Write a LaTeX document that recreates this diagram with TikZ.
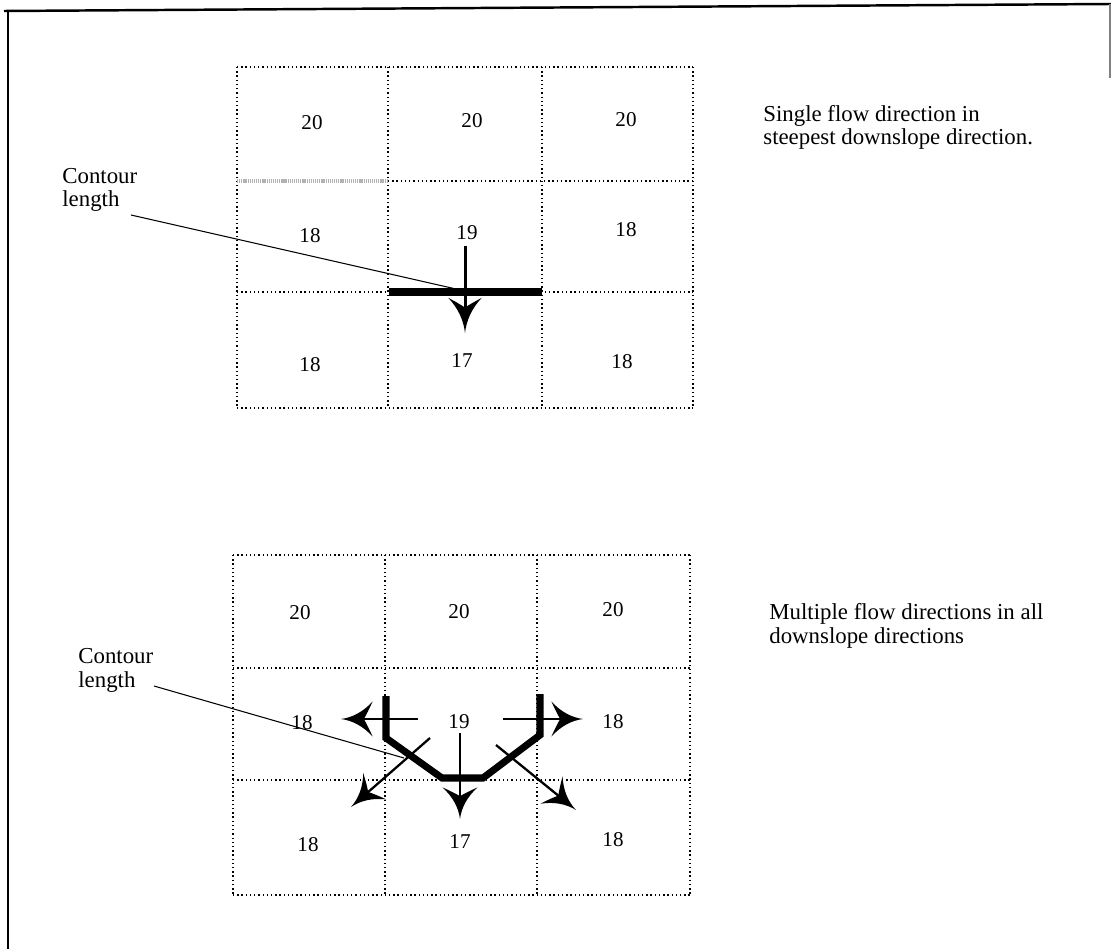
\documentclass[tikz,border=0pt]{standalone}
\usepackage{fontspec}
\setmainfont{Liberation Serif}
\usetikzlibrary{arrows.meta}

% filled arrow head with curved, swept-back barbs
\pgfdeclarearrow{
  name = FlowBarb,
  parameters = {\the\pgfarrowlength,\the\pgfarrowwidth},
  setup code = {
    \pgfarrowssettipend{0pt}
    \pgfarrowssetbackend{-\pgfarrowlength}
    \pgfarrowssetlineend{-0.6\pgfarrowlength}
    \pgfarrowssavethe\pgfarrowlength
    \pgfarrowssavethe\pgfarrowwidth
  },
  drawing code = {
    \pgfpathmoveto{\pgfpoint{0pt}{0pt}}
    \pgfpathcurveto{\pgfpoint{-0.35\pgfarrowlength}{0.04\pgfarrowwidth}}
                   {\pgfpoint{-0.7\pgfarrowlength}{0.2\pgfarrowwidth}}
                   {\pgfpoint{-\pgfarrowlength}{0.5\pgfarrowwidth}}
    \pgfpathcurveto{\pgfpoint{-0.9\pgfarrowlength}{0.3\pgfarrowwidth}}
                   {\pgfpoint{-0.78\pgfarrowlength}{0.08\pgfarrowwidth}}
                   {\pgfpoint{-0.72\pgfarrowlength}{0pt}}
    \pgfpathcurveto{\pgfpoint{-0.78\pgfarrowlength}{-0.08\pgfarrowwidth}}
                   {\pgfpoint{-0.9\pgfarrowlength}{-0.3\pgfarrowwidth}}
                   {\pgfpoint{-\pgfarrowlength}{-0.5\pgfarrowwidth}}
    \pgfpathcurveto{\pgfpoint{-0.7\pgfarrowlength}{-0.2\pgfarrowwidth}}
                   {\pgfpoint{-0.35\pgfarrowlength}{-0.04\pgfarrowwidth}}
                   {\pgfpoint{0pt}{0pt}}
    \pgfpathclose
    \pgfusepathqfill
  },
  defaults = {length=18pt, width=19pt}
}

\begin{document}
\begin{tikzpicture}[x=0.02cm, y=-0.02cm,
  gridline/.style={line width=0.7pt, dash pattern=on 0.8pt off 1.6pt},
  cellnum/.style={font=\fontsize{12}{13}\selectfont, inner sep=0pt},
  caption/.style={font=\fontsize{13}{13.2}\selectfont, align=left, inner sep=0pt, anchor=base west},
  leader/.style={line width=0.6pt},
  contour/.style={line width=4pt, line join=miter},
  flow/.style={line width=1.3pt, -{FlowBarb[length=18pt, width=20pt]}},
  mainflow/.style={line width=1.7pt, -{FlowBarb[length=20pt, width=19pt]}}]

\useasboundingbox (0,0) rectangle (1111,949);

% page frame
\draw[line width=1.4pt] (4,11) -- (1111,4);
\draw[line width=1.2pt] (8,10) -- (8,949);
\draw[line width=1pt, gray] (1110,4) -- (1110,78);

% ---------------- single flow direction ----------------
\foreach \x in {237,388,542,693} \draw[gridline] (\x,67) -- (\x,408);
\foreach \y in {67,292,408} \draw[gridline] (237,\y) -- (693,\y);
\draw[gridline] (388,181) -- (693,181);
\draw[line width=2pt, gray!60, dash pattern=on 0.7pt off 0.5pt] (237,181) -- (388,181);

\node[cellnum] (a11) at (312,123) {20};
\node[cellnum] (a12) at (472,121) {20};
\node[cellnum] (a13) at (626,120) {20};
\node[cellnum] (a21) at (310,236) {18};
\node[cellnum] (a22) at (467,233) {19};
\node[cellnum] (a23) at (626,230) {18};
\node[cellnum] (a31) at (310,365) {18};
\node[cellnum] (a32) at (462,361) {17};
\node[cellnum] (a33) at (622,362) {18};

\coordinate (aCL) at (389,292);
\coordinate (aCR) at (542,292);
\draw[contour] (aCL) -- (aCR);

\coordinate (aS) at (465,246);
\coordinate (aT) at (465,333);
\draw[mainflow] (aS) -- (aT);

\node[caption] (alab) at (62,207) {Contour\\length};
\coordinate (aL0) at (131,215);
\coordinate (aL1) at (456,289);
\draw[leader] (aL0) -- (aL1);

\node[caption] (adesc) at (763,145) {Single flow direction in\\steepest downslope direction.};

% ---------------- multiple flow directions ----------------
\foreach \x in {233,385,537,690} \draw[gridline] (\x,555) -- (\x,895);
\foreach \y in {555,668,780,895} \draw[gridline] (233,\y) -- (690,\y);

\node[cellnum] (b11) at (300,613) {20};
\node[cellnum] (b12) at (459,612) {20};
\node[cellnum] (b13) at (613,610) {20};
\node[cellnum] (b21) at (302,723) {18};
\node[cellnum] (b22) at (459,722) {19};
\node[cellnum] (b23) at (613,722) {18};
\node[cellnum] (b31) at (308,845) {18};
\node[cellnum] (b32) at (460,842) {17};
\node[cellnum] (b33) at (613,840) {18};

\coordinate (c1) at (386,696);
\coordinate (c2) at (386,738);
\coordinate (c3) at (442,778);
\coordinate (c4) at (483,778);
\coordinate (c5) at (540,735);
\coordinate (c6) at (540,694);
\draw[contour] (c1) -- (c2) -- (c3) -- (c4) -- (c5) -- (c6);

\coordinate (wS) at (418,719);  \coordinate (wT) at (341,719);
\coordinate (eS) at (503,719);  \coordinate (eT) at (583,719);
\coordinate (sS) at (460,733);  \coordinate (sT) at (460,819);
\coordinate (swS) at (430,738); \coordinate (swT) at (351,807);
\coordinate (seS) at (496,745); \coordinate (seT) at (576,810);
\draw[flow] (wS) -- (wT);
\draw[flow] (eS) -- (eT);
\draw[flow] (sS) -- (sT);
\draw[flow] (swS) -- (swT);
\draw[flow] (seS) -- (seT);

\node[caption] (blab) at (78,687) {Contour\\length};
\coordinate (bL0) at (154,686);
\coordinate (bL1) at (404,758);
\draw[leader] (bL0) -- (bL1);

\node[caption] (bdesc) at (769,643) {Multiple flow directions in all\\downslope directions};

\end{tikzpicture}
\end{document}
